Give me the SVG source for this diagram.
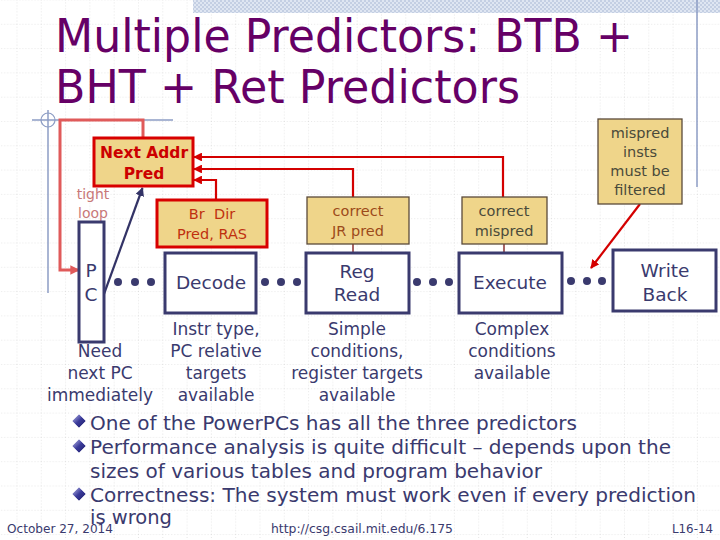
<svg xmlns="http://www.w3.org/2000/svg" width="720" height="540" viewBox="0 0 720 540">
<defs>
<pattern id="grid" x="16.5" y="-0.5" width="24.3" height="24.3" patternUnits="userSpaceOnUse">
<path d="M0,0 H24.3 M0,0 V24.3" fill="none" stroke="#cfcfcf" stroke-width="1" stroke-dasharray="1,2"/>
</pattern>
<pattern id="check" width="4" height="4" patternUnits="userSpaceOnUse">
<rect width="4" height="4" fill="#dfe6f2"/>
<rect width="2" height="2" fill="#c4cfe3"/>
<rect x="2" y="2" width="2" height="2" fill="#c4cfe3"/>
</pattern>
<linearGradient id="dia" x1="0" y1="0" x2="1" y2="1">
<stop offset="0" stop-color="#c8c8f0"/>
<stop offset="0.5" stop-color="#3a3a9a"/>
<stop offset="1" stop-color="#1e1e66"/>
</linearGradient>
<marker id="arrRed" viewBox="0 0 10 10" refX="9" refY="5" markerWidth="4" markerHeight="4" orient="auto" markerUnits="strokeWidth">
<path d="M0,0 L10,5 L0,10 z" fill="#d40000"/>
</marker>
<marker id="arrNavy" viewBox="0 0 10 10" refX="9" refY="5" markerWidth="4" markerHeight="4" orient="auto" markerUnits="strokeWidth">
<path d="M0,0 L10,5 L0,10 z" fill="#333366"/>
</marker>
<marker id="arrSalmon" viewBox="0 0 10 10" refX="8" refY="5" markerWidth="3.2" markerHeight="3.2" orient="auto" markerUnits="strokeWidth">
<path d="M0,0 L10,5 L0,10 z" fill="#e05a5a"/>
</marker>
<style>
text { font-family: "DejaVu Sans", Verdana, sans-serif; }
.stage { fill: #ffffff; stroke: #3a3a6e; stroke-width: 3; }
.pred { fill: #efd58a; stroke: #d80000; stroke-width: 3; }
.note { fill: #efd58a; stroke: #5a4a3a; stroke-width: 1.3; }
.st { fill: #3a3a6e; font-size: 18.5px; text-anchor: middle; }
.lbl { fill: #3a3a6e; font-size: 17px; text-anchor: middle; }
.bul { fill: #3a3a6e; font-size: 19.5px; }
.foot { fill: #3a3a6e; font-size: 13px; }
.dot { fill: #3a3a6e; }
.redline { fill: none; stroke: #d40000; stroke-width: 2.2; }
</style>
</defs>

<rect width="720" height="540" fill="#ffffff"/>
<rect width="720" height="540" fill="url(#grid)"/>
<rect x="193" y="0" width="527" height="13" fill="url(#check)"/>
<line x1="697" y1="0" x2="697" y2="187" stroke="#8c9cc4" stroke-width="1.5"/>
<line x1="32" y1="120" x2="173" y2="120" stroke="#8c9cc4" stroke-width="1.5"/>
<line x1="48" y1="110" x2="48" y2="293" stroke="#8c9cc4" stroke-width="1.5"/>
<circle cx="48" cy="120" r="7" fill="none" stroke="#8c9cc4" stroke-width="1.2"/>

<text x="55" y="52" font-size="46" fill="#660066" textLength="578" lengthAdjust="spacingAndGlyphs">Multiple Predictors: BTB +</text>
<text x="55" y="103" font-size="46" fill="#660066" textLength="465" lengthAdjust="spacingAndGlyphs">BHT + Ret Predictors</text>

<g id="connectors">
<path d="M143,138 V120 H60 V270 H78" fill="none" stroke="#e05a5a" stroke-width="3" marker-end="url(#arrSalmon)"/>
<line x1="104" y1="294" x2="142.5" y2="188" stroke="#333366" stroke-width="2.2" marker-end="url(#arrNavy)"/>
<path class="redline" d="M503,197 V157 H194" marker-end="url(#arrRed)"/>
<path class="redline" d="M353,197 V169 H194" marker-end="url(#arrRed)"/>
<path class="redline" d="M216,200 V180 H194" marker-end="url(#arrRed)"/>
<line x1="353" y1="244" x2="353" y2="253" stroke="#8b3030" stroke-width="1.5"/>
<line x1="504" y1="244" x2="504" y2="253" stroke="#8b3030" stroke-width="1.5"/>
<line x1="640" y1="204" x2="591" y2="268" class="redline" marker-end="url(#arrRed)"/>
<g id="dots">
<circle class="dot" cx="118" cy="282" r="4"/><circle class="dot" cx="135" cy="282" r="4"/><circle class="dot" cx="151" cy="282" r="4"/>
<circle class="dot" cx="265" cy="282" r="4"/><circle class="dot" cx="281" cy="282" r="4"/><circle class="dot" cx="297" cy="282" r="4"/>
<circle class="dot" cx="417" cy="282" r="4"/><circle class="dot" cx="433" cy="282" r="4"/><circle class="dot" cx="449" cy="282" r="4"/>
<circle class="dot" cx="571" cy="281" r="4"/><circle class="dot" cx="587" cy="281" r="4"/><circle class="dot" cx="602" cy="281" r="4"/>
</g>
</g>

<g id="nextaddr">
<rect class="pred" x="94" y="138" width="99" height="48"/>
<text x="144" y="158" font-size="15.5" font-weight="bold" fill="#cc0000" text-anchor="middle">Next Addr</text>
<text x="144" y="179" font-size="15.5" font-weight="bold" fill="#cc0000" text-anchor="middle">Pred</text>
</g>
<g id="tightloop">
<text x="93" y="199" font-size="14" fill="#c87878" text-anchor="middle">tight</text>
<text x="93" y="218" font-size="14" fill="#c87878" text-anchor="middle">loop</text>
</g>
<g id="pc">
<rect class="stage" x="79" y="222" width="25" height="120"/>
<text x="91" y="277" font-size="18.5" fill="#3a3a6e" text-anchor="middle">P</text>
<text x="91" y="301" font-size="18.5" fill="#3a3a6e" text-anchor="middle">C</text>
</g>
<g id="brdir">
<rect class="pred" x="157" y="200" width="110" height="47"/>
<text x="212" y="219" font-size="14.5" fill="#c03010" text-anchor="middle" xml:space="preserve">Br  Dir</text>
<text x="212" y="239" font-size="14.5" fill="#c03010" text-anchor="middle">Pred, RAS</text>
</g>
<g id="correctjr">
<rect class="note" x="307" y="197" width="102" height="47" stroke="#8b3030"/>
<text x="358" y="216" font-size="14.5" fill="#9c4a1a" text-anchor="middle">correct</text>
<text x="358" y="236" font-size="14.5" fill="#9c4a1a" text-anchor="middle">JR pred</text>
</g>
<g id="correctmispred">
<rect class="note" x="462" y="197" width="85" height="47"/>
<text x="504" y="216" font-size="14.5" fill="#4a4a3a" text-anchor="middle">correct</text>
<text x="504" y="236" font-size="14.5" fill="#4a4a3a" text-anchor="middle">mispred</text>
</g>
<g id="mispredinsts">
<rect class="note" x="598" y="119" width="84" height="85"/>
<text x="640" y="138" font-size="14.5" fill="#4a4a3a" text-anchor="middle">mispred</text>
<text x="640" y="157" font-size="14.5" fill="#4a4a3a" text-anchor="middle">insts</text>
<text x="640" y="176" font-size="14.5" fill="#4a4a3a" text-anchor="middle">must be</text>
<text x="640" y="195" font-size="14.5" fill="#4a4a3a" text-anchor="middle">filtered</text>
</g>
<g id="decode">
<rect class="stage" x="165" y="253" width="91" height="60"/>
<text class="st" x="211" y="289">Decode</text>
</g>
<g id="regread">
<rect class="stage" x="306" y="253" width="103" height="60"/>
<text class="st" x="357" y="278">Reg</text>
<text class="st" x="357" y="301">Read</text>
</g>
<g id="execute">
<rect class="stage" x="459" y="253" width="103" height="60"/>
<text class="st" x="510" y="289">Execute</text>
</g>
<g id="writeback">
<rect class="stage" x="613" y="250" width="103" height="61"/>
<text class="st" x="665" y="277">Write</text>
<text class="st" x="665" y="301">Back</text>
</g>

<g id="labels">
<text class="lbl" x="100" y="357">Need</text>
<text class="lbl" x="100" y="379">next PC</text>
<text class="lbl" x="100" y="401">immediately</text>
<text class="lbl" x="216" y="335">Instr type,</text>
<text class="lbl" x="216" y="357">PC relative</text>
<text class="lbl" x="216" y="379">targets</text>
<text class="lbl" x="216" y="401">available</text>
<text class="lbl" x="357" y="335">Simple</text>
<text class="lbl" x="357" y="357">conditions,</text>
<text class="lbl" x="357" y="379">register targets</text>
<text class="lbl" x="357" y="401">available</text>
<text class="lbl" x="512" y="335">Complex</text>
<text class="lbl" x="512" y="357">conditions</text>
<text class="lbl" x="512" y="379">available</text>
</g>

<g id="bullets">
<g fill="url(#dia)" stroke="#ffffff" stroke-width="0.6">
<polygon points="79,414 86,421 79,428 72,421"/>
<polygon points="79,439 86,446 79,453 72,446"/>
<polygon points="79,487 86,494 79,501 72,494"/>
</g>
<text class="bul" x="90" y="430" textLength="487" lengthAdjust="spacingAndGlyphs">One of the PowerPCs has all the three predictors</text>
<text class="bul" x="90" y="454" textLength="581" lengthAdjust="spacingAndGlyphs">Performance analysis is quite difficult – depends upon the</text>
<text class="bul" x="90" y="478" textLength="452" lengthAdjust="spacingAndGlyphs">sizes of various tables and program behavior</text>
<text class="bul" x="90" y="502" textLength="606" lengthAdjust="spacingAndGlyphs">Correctness: The system must work even if every prediction</text>
<text class="bul" x="90" y="524" textLength="82" lengthAdjust="spacingAndGlyphs">is wrong</text>
</g>

<g id="footer">
<text class="foot" x="7" y="533" textLength="106" lengthAdjust="spacingAndGlyphs">October 27, 2014</text>
<text class="foot" x="271" y="533" textLength="182" lengthAdjust="spacingAndGlyphs">http://csg.csail.mit.edu/6.175</text>
<text class="foot" x="672" y="533" textLength="41" lengthAdjust="spacingAndGlyphs">L16-14</text>
</g>
</svg>
